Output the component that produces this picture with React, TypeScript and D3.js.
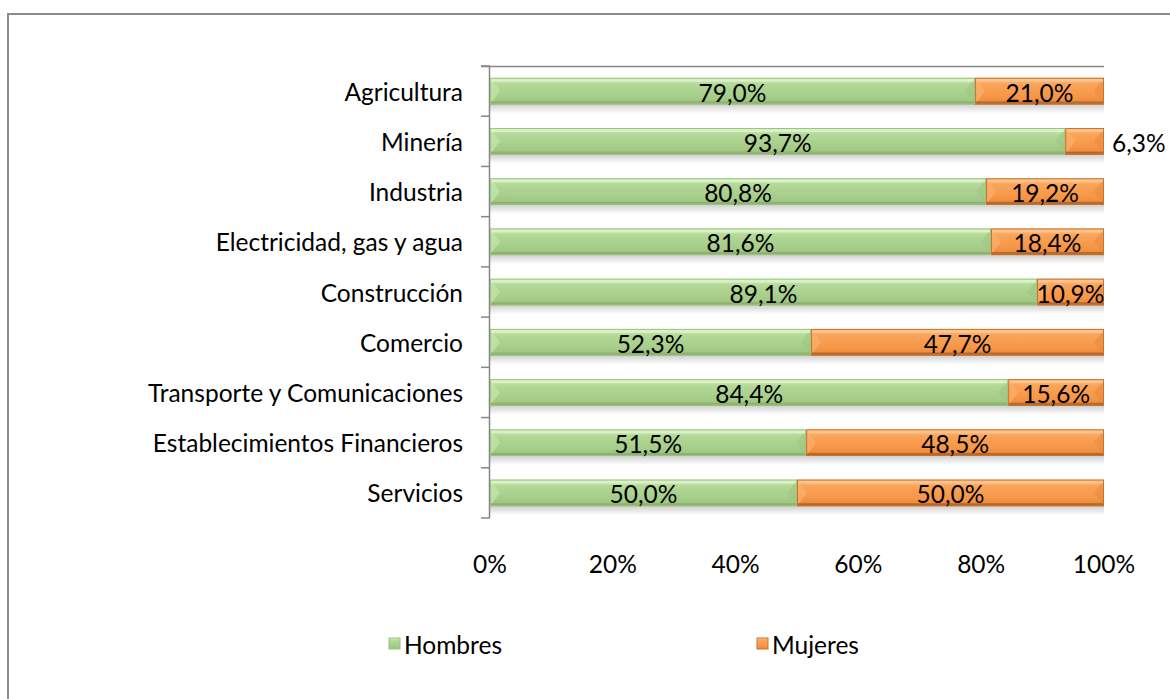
import React from "react";
import * as d3 from "d3";

const categories = [
  "Agricultura",
  "Minería",
  "Industria",
  "Electricidad, gas y agua",
  "Construcción",
  "Comercio",
  "Transporte y Comunicaciones",
  "Establecimientos Financieros",
  "Servicios",
];
const hombres = [79.0, 93.7, 80.8, 81.6, 89.1, 52.3, 84.4, 51.5, 50.0];
const mujeres = [21.0, 6.3, 19.2, 18.4, 10.9, 47.7, 15.6, 48.5, 50.0];
const xTicks = [0, 20, 40, 60, 80, 100];
const seriesNames = ["Hombres", "Mujeres"];

const W = 1170;
const H = 699;
const FONT = "Lato, 'Open Sans', sans-serif";
const FS = 24.5;

const fmt = (v: number) => v.toFixed(1).replace(".", ",") + "%";

export default function App() {
  const x = d3.scaleLinear().domain([0, 100]).range([490, 1104]);
  const y = d3.scaleBand<string>().domain(categories).range([66, 518]).paddingInner(0.47).paddingOuter(0.235);
  const bh = y.bandwidth();
  const step = y.step();

  const bar = (x0: number, x1: number, yy: number, kind: "g" | "o", key: string) => {
    const w = x1 - x0;
    const bev = Math.min(10, w / 2);
    return (
      <g key={key}>
        <rect x={x0} y={yy + bh} width={w} height={9} fill="url(#shadow)" />
        <rect x={x0} y={yy} width={w} height={bh} fill={`url(#${kind}main)`} />
        <polygon
          points={`${x0},${yy} ${x0 + bev},${yy + bh / 2} ${x0},${yy + bh}`}
          fill={kind === "g" ? "#c6e5ad" : "#fbb06e"}
          opacity={0.7}
        />
        <polygon
          points={`${x1},${yy} ${x1 - bev},${yy + bh / 2} ${x1},${yy + bh}`}
          fill={kind === "g" ? "#9fc782" : "#e98a3d"}
          opacity={0.6}
        />
        <rect x={x0} y={yy} width={w} height={4} fill={kind === "g" ? "#d9f1c6" : "#fcc38c"} />
        <rect x={x0} y={yy + bh - 3} width={w} height={3} fill={kind === "g" ? "#8db26f" : "#b8692a"} />
        <rect x={x0 + 0.5} y={yy + 0.5} width={w - 1} height={bh - 1} fill="none" stroke={kind === "g" ? "#9cc47e" : "#c8742f"} strokeWidth={1} />
      </g>
    );
  };

  return (
    <svg width={W} height={H} style={{ position: "absolute", left: 0, top: 0 }} fontFamily={FONT}>
      <defs>
        <linearGradient id="gmain" x1="0" y1="0" x2="0" y2="1">
          <stop offset="0" stopColor="#d3ecbd" />
          <stop offset="0.25" stopColor="#b3d897" />
          <stop offset="0.7" stopColor="#a6cd89" />
          <stop offset="1" stopColor="#9cc27f" />
        </linearGradient>
        <linearGradient id="omain" x1="0" y1="0" x2="0" y2="1">
          <stop offset="0" stopColor="#fbbf86" />
          <stop offset="0.25" stopColor="#f9a45a" />
          <stop offset="0.7" stopColor="#f79646" />
          <stop offset="1" stopColor="#e5863b" />
        </linearGradient>
        <linearGradient id="shadow" x1="0" y1="0" x2="0" y2="1">
          <stop offset="0" stopColor="#000" stopOpacity={0.18} />
          <stop offset="1" stopColor="#000" stopOpacity={0} />
        </linearGradient>
      </defs>
      <rect x={0} y={0} width={W} height={H} fill="#fff" />
      {/* outer border */}
      <rect x={8} y={14} width={W + 20} height={H + 20} fill="none" stroke="#8c8c8c" strokeWidth={2} />

      {/* axis frame */}
      <line x1={481} y1={66.5} x2={x(100)} y2={66.5} stroke="#868686" strokeWidth={1.5} />
      <line x1={489.5} y1={66} x2={489.5} y2={518} stroke="#868686" strokeWidth={1.5} />
      {d3.range(categories.length + 1).map((i) => (
        <line key={"t" + i} x1={481} x2={490} y1={66 + i * step} y2={66 + i * step} stroke="#868686" strokeWidth={1.5} />
      ))}

      {categories.map((c, i) => {
        const yy = y(c)!;
        const xm = x(hombres[i]);
        const cy = yy + bh / 2;
        const wLabelCx = (x(0) + xm) / 2;
        const mCx = (xm + x(100)) / 2;
        const outside = mujeres[i] < 8;
        return (
          <g key={c}>
            {bar(x(0), xm, yy, "g", "g" + i)}
            {bar(xm, x(100), yy, "o", "o" + i)}
            <text x={463} y={cy} textAnchor="end" dominantBaseline="central" fontSize={FS} fill="#000">
              {c}
            </text>
            <text x={wLabelCx} y={cy + 1} textAnchor="middle" dominantBaseline="central" fontSize={FS} fill="#000">
              {fmt(hombres[i])}
            </text>
            <text
              x={outside ? x(100) + 8 : mCx}
              y={cy + 1}
              textAnchor={outside ? "start" : "middle"}
              dominantBaseline="central"
              fontSize={FS}
              fill="#000"
            >
              {fmt(mujeres[i])}
            </text>
          </g>
        );
      })}

      {xTicks.map((t) => (
        <text key={"x" + t} x={x(t)} y={563} textAnchor="middle" dominantBaseline="central" fontSize={FS} fill="#000">
          {t}%
        </text>
      ))}

      {/* legend */}
      {seriesNames.map((s, i) => {
        const lx = i === 0 ? 389 : 757;
        const kind = i === 0 ? "g" : "o";
        return (
          <g key={s}>
            <rect x={lx} y={638} width={11} height={11} fill={`url(#${kind}main)`} stroke={kind === "g" ? "#9cc47e" : "#c8742f"} />
            <text x={lx + 15} y={644} dominantBaseline="central" fontSize={FS} fill="#000">
              {s}
            </text>
          </g>
        );
      })}
    </svg>
  );
}
